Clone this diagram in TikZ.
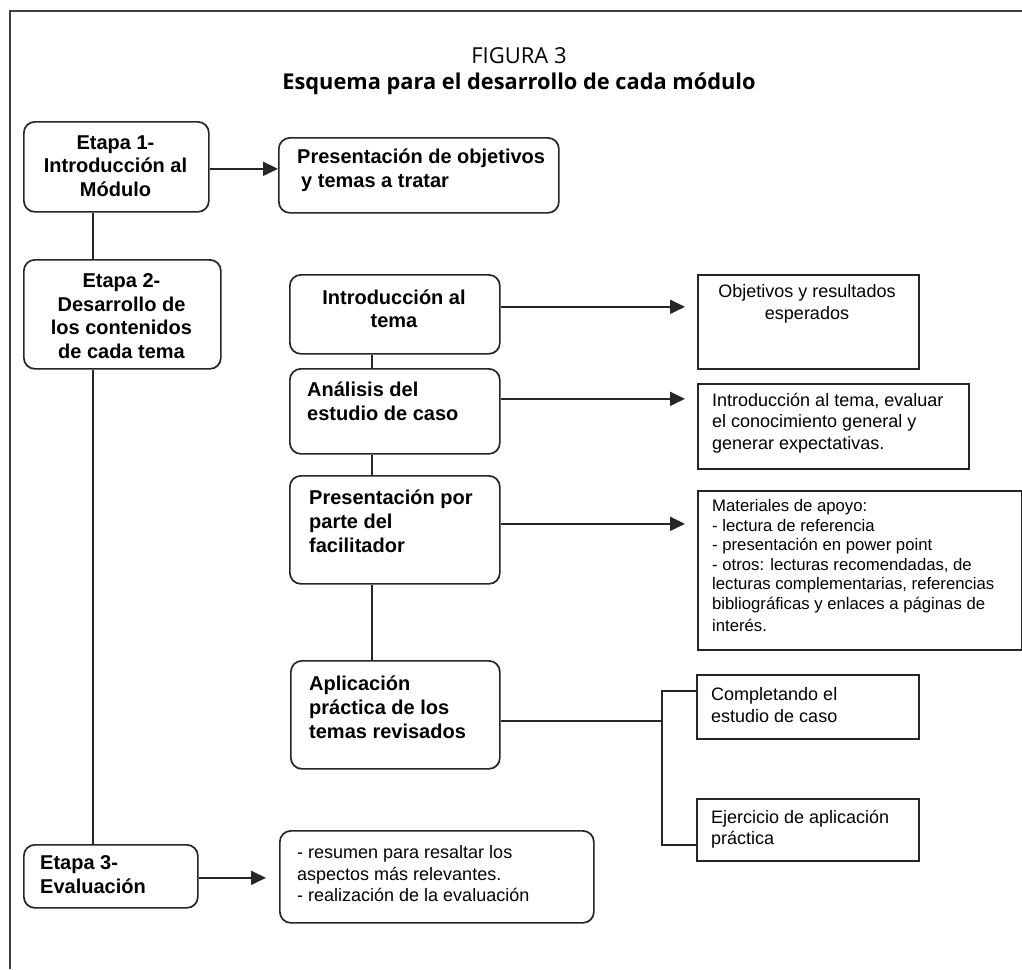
\documentclass[tikz,border=0pt]{standalone}
\usepackage{fontspec}
\setmainfont{Liberation Sans}
\newfontfamily\titlefont{Open Sans}
\usetikzlibrary{arrows.meta}
\begin{document}
\begin{tikzpicture}[x=1pt,y=-1pt,
  ln/.style={line width=1.7pt, draw=black!85},
  arr/.style={ln, -{Triangle[length=15pt,width=14pt]}},
  rbox/.style={ln, rounded corners=11pt, inner sep=0pt, anchor=north west},
  sbox/.style={ln, inner sep=0pt, anchor=north west},
  bt/.style={font=\bfseries\fontsize{20}{24}\selectfont, inner sep=0pt, align=left, anchor=west},
  bc/.style={font=\bfseries\fontsize{20}{23.5}\selectfont, inner sep=0pt, align=center},
  rt/.style={font=\fontsize{18}{21.5}\selectfont, inner sep=0pt, align=left, anchor=west},
  mt/.style={font=\fontsize{16.7}{19.5}\selectfont, inner sep=0pt, align=left, anchor=west}
]
\useasboundingbox (0,0) rectangle (1022,969);
\fill[white] (0,0) rectangle (1022,969);
% frame
\draw[line width=2.5pt, black!75] (10,969) -- (10,11) -- (1022,11);
% title
\node[font=\titlefont\fontsize{22}{24}\selectfont, inner sep=0pt] (fig) at (519,56) {FIGURA 3};
\node[font=\titlefont\bfseries\fontsize{21.8}{24}\selectfont, inner sep=0pt] (tit) at (519,84) {Esquema para el desarrollo de cada módulo};

% boxes
\node[rbox, minimum width=185pt, minimum height=90pt] (E1) at (23,121) {};
\node[rbox, minimum width=280pt, minimum height=75pt] (P1) at (278,137) {};
\node[rbox, minimum width=197pt, minimum height=109pt] (E2) at (23,259) {};
\node[rbox, minimum width=210pt, minimum height=79pt] (I) at (289,274) {};
\node[rbox, minimum width=210pt, minimum height=85pt] (An) at (289,368) {};
\node[rbox, minimum width=210pt, minimum height=108pt] (Pr) at (289,475) {};
\node[rbox, minimum width=209pt, minimum height=108pt] (A) at (290,660) {};
\node[rbox, minimum width=174pt, minimum height=63pt] (E3) at (23,844) {};
\node[rbox, minimum width=314pt, minimum height=92pt] (R) at (279,830) {};
\node[sbox, minimum width=221pt, minimum height=94pt] (O) at (697,274) {};
\node[sbox, minimum width=271pt, minimum height=85pt] (IT) at (697,383) {};
\node[sbox, minimum width=324pt, minimum height=159pt] (M) at (697,490) {};
\node[sbox, minimum width=222pt, minimum height=64pt] (C1) at (696,674) {};
\node[sbox, minimum width=222pt, minimum height=62pt] (C2) at (696,798) {};

% texts
\node[bc] (E1t) at (115.5,166) {Etapa 1-\\Introducción al\\Módulo};
\node[bt] (P1t) at (297,170) {Presentación de objetivos\\\hspace*{4pt}y temas a tratar};
\node[bc] (E2t) at (121.5,316) {Etapa 2-\\Desarrollo de\\los contenidos\\de cada tema};
\node[bc] (It) at (394,309) {Introducción al\\tema};
\node[bt] (Ant) at (307,401) {Análisis del\\estudio de caso};
\node[bt] (Prt) at (309,521) {Presentación por\\parte del\\facilitador};
\node[bt] (At) at (309,707) {Aplicación\\práctica de los\\temas revisados};
\node[bt] (E3t) at (40,875) {Etapa 3-\\Evaluación};
\node[rt] (Rt) at (297,874) {- resumen para resaltar los\\aspectos más relevantes.\\- realización de la evaluación};
\node[rt, align=center, anchor=center] (Ot) at (807,304) {Objetivos y resultados\\esperados};
\node[rt] (ITt) at (712,423) {Introducción al tema, evaluar\\el conocimiento general y\\generar expectativas.};
\node[mt] (Mt) at (712,566) {Materiales de apoyo:\\- lectura de referencia\\- presentación en power point\\- otros: lecturas recomendadas, de\\lecturas complementarias, referencias\\bibliográficas y enlaces a páginas de\\[3pt]interés.};
\node[rt] (C1t) at (711,705) {Completando el\\estudio de caso};
\node[rt] (C2t) at (711,829) {Ejercicio de aplicación\\práctica};

% connectors
\draw[arr] ([yshift=-2pt]E1.east) -- ([yshift=-2pt]E1.east -| P1.west);
\draw[ln] ([xshift=70pt]E1.south west) -- ([xshift=70pt]E2.north west);
\draw[ln] ([xshift=70pt]E2.south west) -- ([xshift=70pt]E3.north west);
\draw[arr, shorten >=13pt] ([yshift=-1.5pt]E3.east) -- ([yshift=-1.5pt]E3.east -| R.west);
\draw[arr, shorten >=12pt] ([yshift=7.5pt]I.east) -- ([yshift=7.5pt]I.east -| O.west);
\draw[arr, shorten >=12pt] ([yshift=12.5pt]An.east) -- ([yshift=12.5pt]An.east -| IT.west);
\draw[arr, shorten >=12pt] ([yshift=6pt]Pr.east) -- ([yshift=6pt]Pr.east -| M.west);
\draw[ln] ([xshift=83pt]I.south west) -- ([xshift=83pt]An.north west);
\draw[ln] ([xshift=83pt]An.south west) -- ([xshift=83pt]Pr.north west);
\draw[ln] ([xshift=83pt]Pr.south west) -- ([xshift=83pt]Pr.south west |- A.north);
\coordinate (jn) at (662,720);
\draw[ln] ([yshift=-6pt]A.east) -- ([yshift=-6pt]A.east -| jn);
\draw[ln] ([yshift=16pt]C1.west) -| (jn) |- ([yshift=-15pt]C2.west);
\end{tikzpicture}
\end{document}
